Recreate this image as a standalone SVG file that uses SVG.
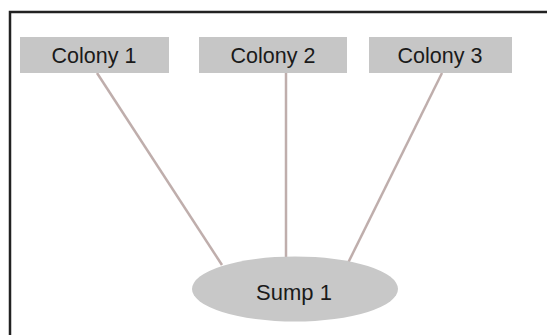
<svg xmlns="http://www.w3.org/2000/svg" width="547" height="335" viewBox="0 0 547 335">
<style>
.box{fill:#c6c6c6}
.lbl{font-family:"Liberation Sans",Arial,sans-serif;font-size:21.5px;fill:#1a1a1a;text-anchor:middle}
.conn{stroke:#bfaeac;stroke-width:2.5;fill:none}
</style>
<rect width="547" height="335" fill="#ffffff"/>
<path d="M10,335 V12 H547" fill="none" stroke="#222" stroke-width="2.5"/>
<g id="connectors">
<line class="conn" x1="97" y1="73" x2="222" y2="265"/>
<line class="conn" x1="286" y1="73" x2="286" y2="258"/>
<line class="conn" x1="442" y1="73" x2="348" y2="263"/>
</g>
<g id="colony1"><rect class="box" x="20" y="37" width="149" height="36"/><text class="lbl" x="94" y="63">Colony 1</text></g>
<g id="colony2"><rect class="box" x="199" y="37" width="148" height="36"/><text class="lbl" x="273" y="63">Colony 2</text></g>
<g id="colony3"><rect class="box" x="369" y="37" width="143" height="36"/><text class="lbl" x="440" y="63">Colony 3</text></g>
<g id="sump1"><ellipse cx="295" cy="289" rx="103" ry="32.5" fill="#c8c8c8"/><text class="lbl" x="294" y="300" style="font-size:22px">Sump 1</text></g>
</svg>
